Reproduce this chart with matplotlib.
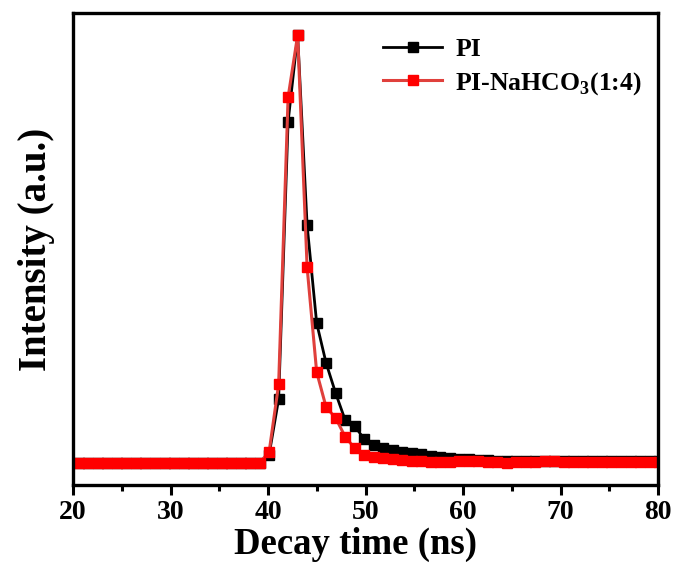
import matplotlib as mpl
import matplotlib.pyplot as plt
from matplotlib.ticker import MultipleLocator, NullLocator

# decay time channels (ns)
time_ns = [19.63, 20.61, 21.58, 22.56, 23.53, 24.51, 25.48, 26.46, 27.43, 28.41,
           29.39, 30.36, 31.34, 32.31, 33.29, 34.26, 35.24, 36.21, 37.19, 38.16,
           39.14, 40.11, 41.09, 42.06, 43.04, 44.01, 44.99, 45.96, 46.94, 47.92,
           48.89, 49.87, 50.84, 51.82, 52.79, 53.77, 54.74, 55.72, 56.69, 57.67,
           58.64, 59.62, 60.59, 61.57, 62.55, 63.52, 64.50, 65.47, 66.45, 67.42,
           68.40, 69.37, 70.35, 71.32, 72.30, 73.27, 74.25, 75.22, 76.20, 77.18,
           78.15, 79.13, 80.10]

# normalized intensity, PI
pi_int = [0.048, 0.048, 0.048, 0.048, 0.049, 0.049, 0.049, 0.049, 0.049, 0.049,
          0.048, 0.049, 0.049, 0.049, 0.049, 0.049, 0.048, 0.048, 0.049, 0.049,
          0.049, 0.067, 0.191, 0.807, 1.000, 0.578, 0.360, 0.271, 0.204, 0.144,
          0.131, 0.102, 0.089, 0.082, 0.078, 0.074, 0.071, 0.068, 0.064, 0.062,
          0.060, 0.058, 0.057, 0.056, 0.056, 0.054, 0.053, 0.053, 0.054, 0.054,
          0.054, 0.054, 0.053, 0.053, 0.053, 0.053, 0.053, 0.053, 0.053, 0.053,
          0.053, 0.053, 0.053]

# normalized intensity, PI-NaHCO3 (1:4)
pin_int = [0.048, 0.048, 0.048, 0.049, 0.049, 0.049, 0.049, 0.049, 0.049, 0.049,
           0.048, 0.049, 0.049, 0.049, 0.049, 0.049, 0.048, 0.048, 0.049, 0.050,
           0.050, 0.073, 0.224, 0.862, 1.000, 0.484, 0.251, 0.173, 0.149, 0.107,
           0.082, 0.067, 0.062, 0.060, 0.057, 0.056, 0.054, 0.053, 0.052, 0.051,
           0.052, 0.053, 0.054, 0.053, 0.052, 0.051, 0.050, 0.051, 0.052, 0.052,
           0.053, 0.053, 0.052, 0.051, 0.052, 0.051, 0.052, 0.051, 0.052, 0.052,
           0.052, 0.052, 0.052]

mpl.rcParams.update({
    "font.family": "serif",
    "font.serif": ["Liberation Serif", "DejaVu Serif"],
    "font.weight": "bold",
    "mathtext.fontset": "custom",
    "mathtext.rm": "Liberation Serif:bold",
    "mathtext.bf": "Liberation Serif:bold",
})

fig = plt.figure(figsize=(6.78, 5.71), dpi=100)
ax = fig.add_axes([0.1077, 0.1506, 0.8628, 0.8264])

ax.plot(time_ns, pi_int, color="black", lw=2.0, marker="s", ms=6.5,
        mfc="black", mec="black", label="PI")
ax.plot(time_ns, pin_int, color="#e0403c", lw=2.2, marker="s", ms=7,
        mfc="#ff0000", mec="#ff0000", label=r"PI-NaHCO$_\mathbf{3}$(1:4)")

ax.set_xlim(20, 80)
ax.set_ylim(0, 1.049)
ax.xaxis.set_major_locator(MultipleLocator(10))
ax.xaxis.set_minor_locator(MultipleLocator(5))
ax.yaxis.set_major_locator(NullLocator())
ax.tick_params(axis="x", which="major", direction="out", length=7, width=2.2,
               labelsize=20, pad=4)
ax.tick_params(axis="x", which="minor", direction="out", length=4, width=2.2)
for lab in ax.get_xticklabels():
    lab.set_fontweight("bold")
for sp in ax.spines.values():
    sp.set_linewidth(2.4)

ax.set_xlabel("Decay time (ns)", fontsize=26.5, fontweight="bold", labelpad=1)
ax.xaxis.label.set_x(0.483)
ax.set_ylabel("Intensity (a.u.)", fontsize=28, fontweight="bold", labelpad=13)

leg = ax.legend(loc="upper right", bbox_to_anchor=(1.012, 0.997), frameon=False,
                fontsize=18.5, handlelength=2.3, handletextpad=0.5,
                labelspacing=0.35)
for t in leg.get_texts():
    t.set_fontweight("bold")

fig.savefig("out.png", dpi=100)
